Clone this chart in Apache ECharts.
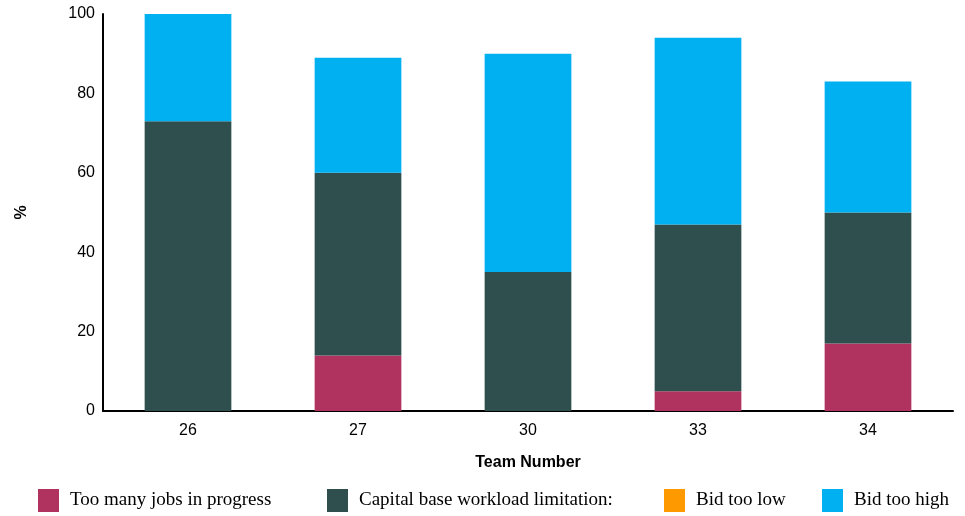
<!DOCTYPE html>
<html><head><meta charset="utf-8">
<script src="https://cdn.jsdelivr.net/npm/echarts@6/dist/echarts.min.js"></script>
<style>html,body{margin:0;padding:0;background:#fff}#c{width:965px;height:516px}</style>
</head><body><div id="c"></div>
<script>
const categories = ['26','27','30','33','34'];
const tooManyJobs = [0, 14, 0, 5, 17];
const capitalBase = [73, 46, 35, 42, 33];
const bidTooLow = [0, 0, 0, 0, 0];
const bidTooHigh = [27, 29, 55, 47, 33];
const seriesNames = ['Too many jobs in progress','Capital base workload limitation:','Bid too low','Bid too high'];
const colors = ['#B0325E','#2F4F4F','#FF9900','#00B0F0'];
const values = [tooManyJobs, capitalBase, bidTooLow, bidTooHigh];
const legendLeft = [38, 327, 664, 822];

const chart = echarts.init(document.getElementById('c'));
chart.setOption({
  animation:false,
  color: colors,
  grid:{left:103,right:12,top:14,bottom:105},
  legend: seriesNames.map((n,i)=>({
    data:[n], left:legendLeft[i], top:489, padding:0, itemWidth:21, itemHeight:23, itemGap:10,
    icon:'rect',
    textStyle:{fontFamily:'Liberation Serif', fontSize:19, color:'#000', padding:[8,0,0,6]}
  })),
  xAxis:{
    type:'category', data:categories,
    name:'Team Number', nameLocation:'middle', nameGap:44,
    nameTextStyle:{fontFamily:'Liberation Sans', fontSize:16, fontWeight:'bold', color:'#000'},
    axisLine:{lineStyle:{color:'#000', width:2}},
    axisTick:{show:false},
    axisLabel:{fontFamily:'Liberation Sans', fontSize:16, color:'#000', margin:12}
  },
  yAxis:{
    type:'value', min:0, max:100, interval:20,
    name:'%', nameLocation:'middle', nameGap:73,
    nameTextStyle:{fontFamily:'Liberation Sans', fontSize:16, fontWeight:'bold', color:'#000'},
    axisLine:{show:true, lineStyle:{color:'#000', width:2}},
    axisTick:{show:false},
    splitLine:{show:false},
    axisLabel:{fontFamily:'Liberation Sans', fontSize:16, color:'#000', margin:8}
  },
  series: seriesNames.map((n,i)=>({
    name:n, type:'bar', stack:'total', data:values[i], barWidth:'51%',
    itemStyle:{color:colors[i]}
  }))
});
</script></body></html>
